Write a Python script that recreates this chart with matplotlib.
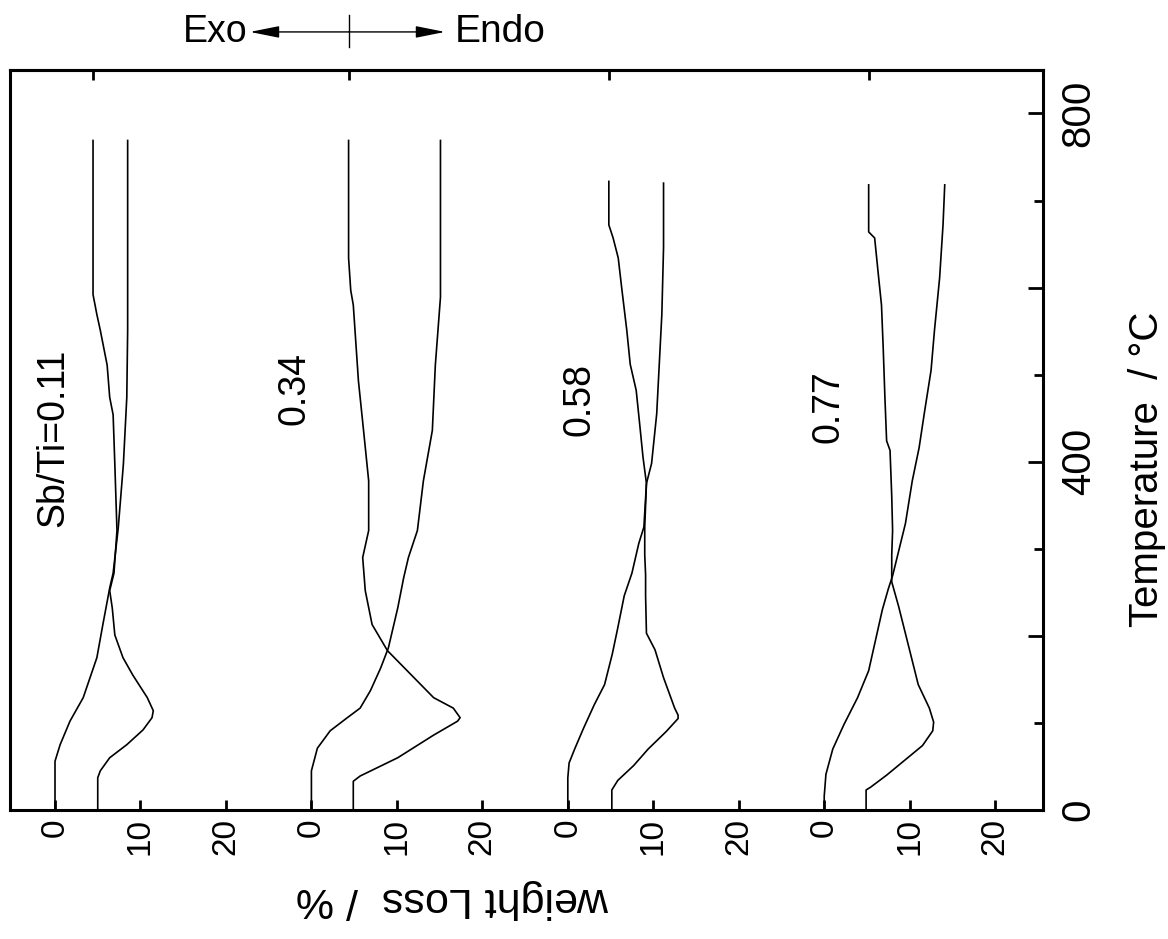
import numpy as np
import matplotlib.pyplot as plt
from matplotlib.lines import Line2D

plt.rcParams['font.family'] = ['Liberation Sans', 'DejaVu Sans']

# one TG / DTA pair per Sb/Ti ratio, stacked side by side
ratios = ['Sb/Ti=0.11', '0.34', '0.58', '0.77']
offsets = [0, 30, 60, 90]            # shift of each stack along the loss axis (%)
loss_ticks = [0, 10, 20]
dta_zero = [4.4, 34.4, 64.8, 95.2]   # DTA baselines, marked on the top edge
temp_ticks = [0, 200, 400, 600, 800]
temp_minor = [100, 300, 500, 700]
temp_labels = ['0', '', '400', '', '800']

# Sb/Ti = 0.11
tg_T1 = [0, 56, 75, 102, 129, 175, 213, 255, 272, 324, 397, 474, 551, 769]
tg_w1 = [0, 0, 0.6, 1.75, 3.3, 4.9, 5.6, 6.4, 6.8, 7.4, 8.0, 8.4, 8.5, 8.5]
dta_T1 = [0, 37, 45, 60, 75, 92, 106, 114, 129, 155, 175, 201, 232, 252, 272,
          321, 397, 454, 474, 511, 551, 569, 592, 769]
dta_w1 = [5.0, 5.0, 5.3, 6.4, 8.4, 10.3, 11.35, 11.5, 10.8, 9.1, 7.95, 7.0, 6.7,
          6.4, 6.9, 7.25, 7.0, 6.8, 6.4, 6.1, 5.3, 4.9, 4.45, 4.45]

# Sb/Ti = 0.34
tg_T2 = [0, 45, 71, 91, 106, 117, 137, 163, 186, 232, 267, 290, 321, 378, 436,
         511, 589, 769]
tg_w2 = [0, 0, 0.7, 2.2, 4.2, 5.7, 6.9, 8.1, 9.0, 10.1, 10.8, 11.35, 12.4, 13.1,
         14.15, 14.5, 15.1, 15.1]
dta_T2 = [0, 33, 39, 60, 86, 102, 106, 117, 129, 160, 183, 213, 252, 290, 321,
          378, 436, 493, 580, 597, 634, 769]
dta_w2 = [4.9, 4.9, 5.7, 10.1, 14.3, 17.1, 17.4, 16.6, 14.3, 11.2, 8.9, 7.1, 6.3,
          6.0, 6.7, 6.7, 6.1, 5.5, 4.9, 4.6, 4.35, 4.35]

# Sb/Ti = 0.58
tg_T3 = [0, 37, 54, 70, 93, 121, 144, 179, 207, 246, 272, 306, 325, 375, 398,
         455, 512, 569, 646, 720]
tg_w3 = [0, 0, 0.15, 0.8, 1.8, 3.1, 4.3, 5.2, 5.8, 6.6, 7.5, 8.3, 8.9, 9.2, 9.8,
         10.4, 10.7, 11.0, 11.2, 11.2]
dta_T3 = [0, 23, 34, 51, 70, 90, 105, 109, 117, 152, 184, 203, 246, 270, 293,
          325, 375, 405, 444, 482, 512, 551, 600, 634, 657, 672, 722]
dta_w3 = [5.15, 5.15, 5.85, 7.7, 9.4, 11.5, 12.9, 12.9, 12.5, 11.2, 10.2, 9.2,
          9.1, 9.1, 9.0, 9.0, 9.2, 8.8, 8.4, 8.0, 7.3, 6.9, 6.3, 5.9, 5.3, 4.8, 4.8]

# Sb/Ti = 0.77
tg_T4 = [0, 16, 41, 70, 98, 129, 160, 195, 230, 254, 269, 329, 378, 416, 455,
         505, 551, 611, 672, 718]
tg_w4 = [0, 0, 0.2, 1.0, 2.3, 3.9, 5.2, 6.0, 6.8, 7.5, 8.0, 9.5, 10.3, 11.1,
         11.7, 12.5, 12.9, 13.5, 13.9, 14.1]
dta_T4 = [0, 23, 26, 40, 57, 74, 91, 101, 117, 144, 191, 234, 262, 293, 321,
          360, 413, 424, 474, 531, 580, 618, 657, 664, 718]
dta_w4 = [4.9, 4.9, 5.4, 7.3, 9.4, 11.5, 12.7, 12.8, 12.3, 11.0, 9.8, 8.7, 7.9,
          7.9, 8.0, 7.9, 7.7, 7.3, 7.1, 6.9, 6.7, 6.3, 5.9, 5.2, 5.2]

tg_T = [tg_T1, tg_T2, tg_T3, tg_T4]
tg_w = [tg_w1, tg_w2, tg_w3, tg_w4]
dta_T = [dta_T1, dta_T2, dta_T3, dta_T4]
dta_w = [dta_w1, dta_w2, dta_w3, dta_w4]

fig = plt.figure(figsize=(11.68, 9.39), dpi=100)
ax = fig.add_axes([0.0086, 0.1374, 0.8844, 0.7881])

for i in range(4):
    ax.plot(offsets[i] + np.array(tg_w[i]), tg_T[i], color='black', lw=1.2)
    ax.plot(offsets[i] + np.array(dta_w[i]), dta_T[i], color='black', lw=1.2)

label_pos = [(-0.2, 428), (28.0, 484), (61.4, 471), (90.5, 463)]
for name, (x, y) in zip(ratios, label_pos):
    ax.text(x, y, name, rotation=90, ha='center', va='center', fontsize=27)

ax.set_xlim(-5.26, 115.6)
ax.set_ylim(0, 850)

for s in ax.spines.values():
    s.set_linewidth(2.2)

# loss axis: 0/10/20 repeated for every stack
xt = [o + t for o in offsets for t in loss_ticks]
ax.set_xticks(xt)
ax.set_xticklabels([str(t) for o in offsets for t in loss_ticks], rotation=90)
ax.tick_params(axis='x', direction='in', length=7, width=2, labelsize=24, pad=6)

# temperature axis on the right
ax.yaxis.tick_right()
ax.set_yticks(temp_ticks)
ax.set_yticks(temp_minor, minor=True)
ax.set_yticklabels(temp_labels, rotation=90, va='center')
ax.tick_params(axis='y', which='major', direction='in', length=11, width=2,
               labelsize=29, pad=12)
ax.tick_params(axis='y', which='minor', direction='in', length=6.5, width=2)

top = ax.secondary_xaxis('top')
top.set_xticks(dta_zero)
top.set_xticklabels([])
top.tick_params(direction='in', length=7, width=2)
top.spines['top'].set_linewidth(2.2)

fig.text(0.982, 0.5, 'Temperature  / \u00b0C', rotation=90, ha='center',
         va='center', fontsize=29)
fig.text(0.387, 0.043, 'weight Loss  / %', rotation=180, ha='center',
         va='center', fontsize=31)

# Exo / Endo direction marker
yy = 0.966
fig.add_artist(Line2D([0.2988, 0.2988], [0.950, 0.984], color='black', lw=1))
ax.annotate('', xy=(0.214, yy), xytext=(0.2988, yy), xycoords='figure fraction',
            arrowprops=dict(arrowstyle='-|>,head_length=0.9,head_width=0.18',
                            color='black', lw=1, mutation_scale=20,
                            shrinkA=0, shrinkB=0))
ax.annotate('', xy=(0.381, yy), xytext=(0.2988, yy), xycoords='figure fraction',
            arrowprops=dict(arrowstyle='-|>,head_length=0.9,head_width=0.18',
                            color='black', lw=1, mutation_scale=20,
                            shrinkA=0, shrinkB=0))
fig.text(0.212, yy, 'Exo', ha='right', va='center', fontsize=27)
fig.text(0.389, yy, 'Endo', ha='left', va='center', fontsize=28)

fig.savefig('out.png', dpi=100)
